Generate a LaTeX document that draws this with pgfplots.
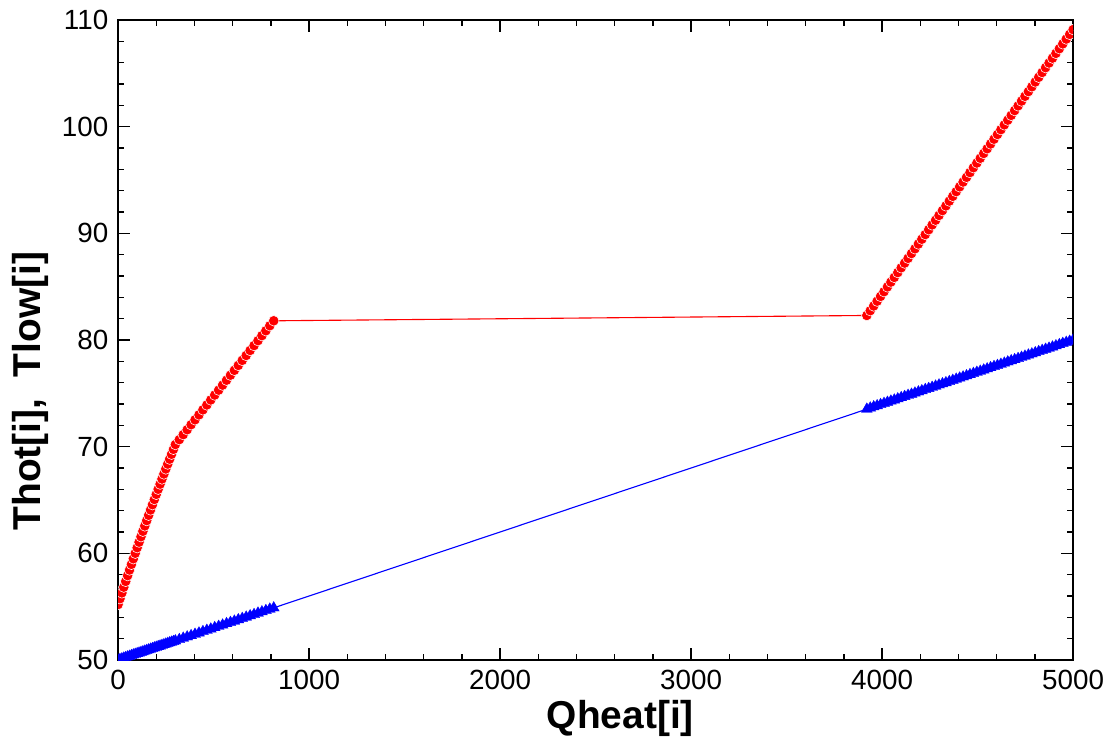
\documentclass[border=0pt]{standalone}
\usepackage{pgfplots}
\pgfplotsset{compat=1.18}
\usepackage{pgfplotstable}
\usepackage{fontspec}
\setmainfont{Liberation Sans}

% shared heat duty, hot side, cold side
\pgfplotstableread{
q thot tlow
0 55.20 50.00
10 55.75 50.06
20 56.29 50.12
30 56.83 50.18
40 57.37 50.24
50 57.91 50.30
60 58.44 50.36
70 58.97 50.42
80 59.49 50.48
90 60.01 50.54
100 60.53 50.60
110 61.05 50.66
120 61.56 50.72
130 62.07 50.78
140 62.57 50.84
150 63.07 50.90
160 63.57 50.96
170 64.07 51.02
180 64.56 51.08
190 65.05 51.14
200 65.53 51.20
210 66.01 51.26
220 66.49 51.32
230 66.97 51.38
240 67.44 51.44
250 67.91 51.50
260 68.37 51.56
270 68.83 51.62
280 69.29 51.68
290 69.75 51.74
300 70.20 51.80
320.6 70.66 51.92
341.2 71.13 52.05
361.8 71.59 52.17
382.4 72.06 52.29
403.0 72.52 52.42
423.6 72.98 52.54
444.2 73.45 52.67
464.8 73.91 52.79
485.4 74.38 52.91
506.0 74.84 53.04
526.6 75.30 53.16
547.2 75.77 53.28
567.8 76.23 53.41
588.4 76.70 53.53
609.0 77.16 53.65
629.6 77.62 53.78
650.2 78.09 53.90
670.8 78.55 54.02
691.4 79.02 54.15
712.0 79.48 54.27
732.6 79.94 54.40
753.2 80.41 54.52
773.8 80.87 54.64
794.4 81.34 54.77
815.0 81.80 54.89
3920 82.30 73.52
3938 82.75 73.63
3956 83.19 73.74
3974 83.64 73.84
3992 84.09 73.95
4010 84.53 74.06
4028 84.98 74.17
4046 85.43 74.28
4064 85.87 74.38
4082 86.32 74.49
4100 86.77 74.60
4118 87.21 74.71
4136 87.66 74.82
4154 88.11 74.92
4172 88.55 75.03
4190 89.00 75.14
4208 89.45 75.25
4226 89.89 75.36
4244 90.34 75.46
4262 90.79 75.57
4280 91.23 75.68
4298 91.68 75.79
4316 92.13 75.90
4334 92.57 76.00
4352 93.02 76.11
4370 93.47 76.22
4388 93.91 76.33
4406 94.36 76.44
4424 94.81 76.54
4442 95.25 76.65
4460 95.70 76.76
4478 96.15 76.87
4496 96.59 76.98
4514 97.04 77.08
4532 97.49 77.19
4550 97.93 77.30
4568 98.38 77.41
4586 98.83 77.52
4604 99.27 77.62
4622 99.72 77.73
4640 100.17 77.84
4658 100.61 77.95
4676 101.06 78.06
4694 101.51 78.16
4712 101.95 78.27
4730 102.40 78.38
4748 102.85 78.49
4766 103.29 78.60
4784 103.74 78.70
4802 104.19 78.81
4820 104.63 78.92
4838 105.08 79.03
4856 105.53 79.14
4874 105.97 79.24
4892 106.42 79.35
4910 106.87 79.46
4928 107.31 79.57
4946 107.76 79.68
4964 108.21 79.78
4982 108.65 79.89
5000 109.10 80.00
}\hxdata

\begin{document}
\begin{tikzpicture}
\begin{axis}[
  name=ax,
  width=343.8pt, height=230.4pt, scale only axis,
  xmin=0, xmax=5000, ymin=50, ymax=110,
  xtick={0,1000,...,5000}, ytick={50,60,...,110},
  minor x tick num=4, minor y tick num=4,
  tick align=inside,
  major tick length=4.3pt, minor tick length=2.2pt,
  axis line style={line width=0.7pt},
  every tick/.style={black, line width=0.5pt},
  tick label style={font=\fontsize{10}{12}\selectfont},
  /pgf/number format/assume math mode=true,
  /pgf/number format/set thousands separator={},
  xlabel={Qheat[i]},
  ylabel={Thot[i],\ \ Tlow[i]},
  label style={font=\fontsize{14}{16}\selectfont\bfseries},
  xlabel style={at={(axis description cs:0.526,0)}, anchor=center, yshift=-20.9pt},
  ylabel style={at={(axis description cs:0,0.42)}, anchor=center, yshift=31.7pt},
  clip marker paths=true,
]
\addplot[red, line width=0.4pt, mark=*, mark size=1.9pt,
  mark options={fill=red, draw=white, line width=0.2pt}]
  table[x=q, y=thot] {\hxdata};
\addplot[blue, line width=0.4pt, mark=triangle*, mark size=2.3pt,
  mark options={fill=blue, draw=blue, line width=0.1pt}]
  table[x=q, y=tlow] {\hxdata};
\end{axis}
\pgfresetboundingbox
\path ([xshift=-42.5pt,yshift=-27.7pt]ax.south west) rectangle ([xshift=12.2pt,yshift=7.2pt]ax.north east);
\end{tikzpicture}
\end{document}
